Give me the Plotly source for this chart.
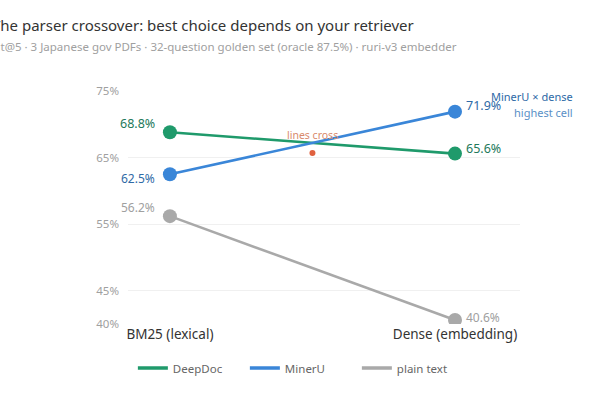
import plotly.graph_objects as go

categories = ["BM25 (lexical)", "Dense (embedding)"]
deepdoc = [68.8, 65.6]
mineru = [62.5, 71.9]
plain = [56.2, 40.6]
series_names = ["DeepDoc", "MinerU", "plain text"]
colors = ["#1f9a6b", "#3a86d8", "#a9a9a9"]
label_colors = ["#23795a", "#2f6aa6", "#a0a0a0"]
ytick_vals = [40, 45, 55, 65, 75]
cross_point = (0.5, 65.7)

FONT = "Noto Sans"
xs = list(range(len(categories)))

fig = go.Figure()
for name, vals, c in zip(series_names, [deepdoc, mineru, plain], colors):
    fig.add_trace(go.Scatter(
        x=xs, y=vals, name=name, mode="lines+markers",
        line=dict(color=c, width=2.6),
        marker=dict(color=c, size=14),
        hoverinfo="skip", showlegend=False, legendgroup=name,
    ))
# legend entries (line only)
for name, c in zip(series_names, colors):
    fig.add_trace(go.Scatter(
        x=[None], y=[None], name=name, mode="lines",
        line=dict(color=c, width=3.5), legendgroup=name, showlegend=True,
    ))

# crossing marker
fig.add_trace(go.Scatter(
    x=[cross_point[0]], y=[cross_point[1]], mode="markers",
    marker=dict(color="#e0613f", size=6), showlegend=False, hoverinfo="skip",
))

annotations = []
left_shifts = [(9, True), (-4, False), (9, False)]
for vals, lc, (ys, bold) in zip([deepdoc, mineru, plain], label_colors, left_shifts):
    annotations.append(dict(
        x=0, y=vals[0], xref="x", yref="y", text=f"{vals[0]:.1f}%",
        showarrow=False, xanchor="right", yanchor="middle",
        xshift=-13, yshift=ys,
        font=dict(family=FONT, size=12.5 if bold else 12, color=lc),
    ))
right_shifts = [5, 6, 3]
for vals, lc, ys in zip([deepdoc, mineru, plain], label_colors, right_shifts):
    annotations.append(dict(
        x=1, y=vals[1], xref="x", yref="y", text=f"{vals[1]:.1f}%",
        showarrow=False, xanchor="left", yanchor="middle",
        xshift=9, yshift=ys,
        font=dict(family=FONT, size=12.5 if lc != "#a0a0a0" else 12, color=lc),
    ))

annotations.append(dict(
    x=cross_point[0], y=cross_point[1], xref="x", yref="y", text="lines cross",
    showarrow=False, yshift=18, font=dict(family=FONT, size=10.5, color="#d98a6c"),
))
annotations.append(dict(
    x=1.14, y=1 + (91 - 97) / 233, xref="paper", yref="paper", text="MinerU × dense",
    showarrow=False, xanchor="right", yanchor="middle",
    font=dict(family=FONT, size=11, color="#2d69a6"),
))
annotations.append(dict(
    x=1.14, y=1 + (91 - 112) / 233, xref="paper", yref="paper", text="highest cell",
    showarrow=False, xanchor="right", yanchor="middle",
    font=dict(family=FONT, size=11, color="#5a8fc6"),
))
annotations.append(dict(
    x=(-10 - 128) / 392, y=1 + (91 - 25) / 233, xref="paper", yref="paper",
    text="The parser crossover: best choice depends on your retriever",
    showarrow=False, xanchor="left", yanchor="middle",
    font=dict(family=FONT, size=15, color="#333333"),
))
annotations.append(dict(
    x=(-13 - 128) / 392, y=1 + (91 - 46) / 233, xref="paper", yref="paper",
    text="Hit@5 · 3 Japanese gov PDFs · 32-question golden set (oracle 87.5%) · ruri-v3 embedder",
    showarrow=False, xanchor="left", yanchor="middle",
    font=dict(family=FONT, size=11.5, color="#a0a0a0"),
))

fig.update_layout(
    width=600, height=400,
    margin=dict(l=128, r=80, t=91, b=76),
    paper_bgcolor="white", plot_bgcolor="white",
    font=dict(family=FONT),
    showlegend=True,
    legend=dict(
        orientation="h", x=0.441, xanchor="center", y=-0.189, yanchor="middle",
        font=dict(family=FONT, size=11.5, color="#666666"),
        entrywidth=67, entrywidthmode="pixels",
    ),
    annotations=annotations,
    xaxis=dict(
        range=[-0.147, 1.228], tickvals=xs, ticktext=categories,
        showgrid=False, zeroline=False, showline=False,
        tickfont=dict(family=FONT, size=13.5, color="#333333"),
        ticks="", ticklen=0,
    ),
    yaxis=dict(
        range=[40, 75], tickvals=ytick_vals,
        ticktext=[f"{v}%" for v in ytick_vals],
        showgrid=True, gridcolor="#f0f0f0", gridwidth=1,
        zeroline=False, showline=False,
        tickfont=dict(family=FONT, size=11.5, color="#a0a0a0"),
        ticks="", ticklabelstandoff=8,
    ),
)

fig.write_html("out.html")
